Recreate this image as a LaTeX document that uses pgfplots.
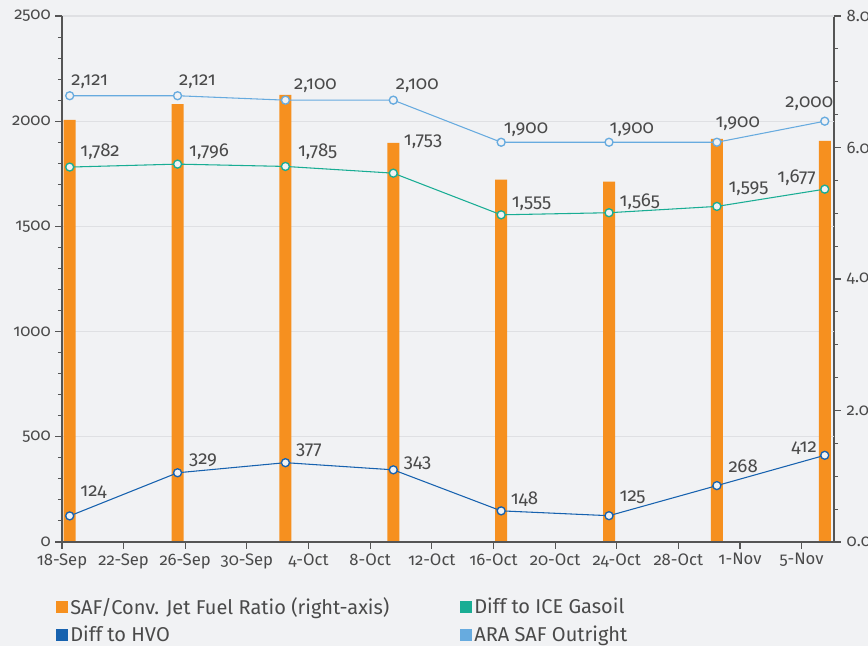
\documentclass[border=0pt]{standalone}
\usepackage{fontspec}
\setmainfont{Fira Sans}[RawFeature={+onum}]
\usepackage{pgfplots}
\usepackage{pgfplotstable}
\pgfplotsset{compat=1.18}
\definecolor{bg}{HTML}{F1F2F4}
\definecolor{barorange}{HTML}{F6901F}
\definecolor{teal}{HTML}{19AD94}
\definecolor{darkblue}{HTML}{1762AF}
\definecolor{lightblue}{HTML}{67ABDF}
\definecolor{txt}{HTML}{4A4A4A}
\definecolor{axgray}{HTML}{555555}
\definecolor{gridgray}{HTML}{DFE0E3}

% x = days after 18-Sep; dx, dy = label offsets in px
\pgfplotstableread{
x y
0.5 6.42
7.5 6.66
14.5 6.80
21.5 6.07
28.5 5.51
35.5 5.48
42.5 6.13
49.5 6.10
}\ratio
\pgfplotstableread{
x y dx dy
0.5 2121 1 14
7.5 2121 1 14
14.5 2100 8 14
21.5 2100 2 14
28.5 1900 2 13
35.5 1900 0 13
42.5 1900 -2 19
49.5 2000 -40 18
}\ara
\pgfplotstableread{
x y dx dy
0.5 1782 10 15
7.5 1796 11 12
14.5 1785 12 15
21.5 1753 10 31
28.5 1555 10 11
35.5 1565 10 11
42.5 1595 11 18
49.5 1677 -48 11
}\ice
\pgfplotstableread{
x y dx dy
0.5 124 10 24
7.5 329 11 13
14.5 377 10 12
21.5 343 10 7
28.5 148 9 12
35.5 125 10 18
42.5 268 11 19
49.5 412 -34 7
}\hvo

\pgfplotsset{
  labelled/.style={
    nodes near coords={\pgfmathprintnumber[1000 sep={,}, fixed, precision=0]{\pgfplotspointmeta}},
    point meta=y,
    visualization depends on={0.75*\thisrow{dx} \as \dx},
    visualization depends on={0.75*\thisrow{dy} \as \dy},
    every node near coord/.append style={anchor=west, inner sep=0pt, font=\fontsize{14}{16}\selectfont, text=txt, xshift=\dx pt, yshift=\dy pt},
  },
}

\begin{document}
\begin{tikzpicture}
\fill[bg] (-46.5pt,-78pt) rectangle (604.5pt,406.5pt);
% right axis with bars
\begin{axis}[
  scale only axis, width=579pt, height=394.5pt,
  xmin=0, xmax=50.1, ymin=0, ymax=8,
  axis x line=none, axis y line*=right,
  axis line style={draw=axgray, line width=0.9pt},
  ytick={0,2,4,6,8},
  minor y tick num=3,
  tick align=outside,
  major tick length=5pt, minor tick length=3pt,
  tick style={draw=axgray, line width=0.8pt},
  /pgf/number format/assume math mode=true,
  yticklabel={\pgfmathprintnumber[fixed, fixed zerofill, precision=1]{\tick}},
  yticklabel style={font=\fontsize{12.5}{14}\selectfont, text=txt, xshift=1pt},
  extra y ticks={1.6,3.2,4.8,6.4,8},
  extra y tick labels={},
  extra y tick style={grid=major, major grid style={draw=gridgray, line width=0.9pt}, major tick length=0pt},
  clip=false,
]
\addplot[ybar, bar width=9pt, fill=barorange, draw=none] table[x=x, y=y] {\ratio};
\end{axis}
% left axis with lines
\begin{axis}[
  scale only axis, width=579pt, height=394.5pt,
  xmin=0, xmax=50.1, ymin=0, ymax=2500,
  axis x line*=bottom, axis y line*=left,
  axis line style={draw=axgray, line width=0.9pt},
  xtick={0,4,...,48},
  xticklabels={18-Sep,22-Sep,26-Sep,30-Sep,4-Oct,8-Oct,12-Oct,16-Oct,20-Oct,24-Oct,28-Oct,1-Nov,5-Nov},
  ytick={0,500,...,2500},
  minor y tick num=4,
  tick align=outside,
  major tick length=5pt, minor tick length=3pt,
  tick style={draw=axgray, line width=0.8pt},
  /pgf/number format/assume math mode=true,
  yticklabel style={font=\fontsize{12.5}{14}\selectfont, text=txt},
  xticklabel style={font=\fontsize{12.5}{14}\selectfont, text=txt},
  scaled y ticks=false,
  yticklabel={\pgfmathprintnumber[1000 sep={}]{\tick}},
  clip=false,
  legend columns=2,
  legend cell align=left,
  legend style={draw=none, fill=none, at={(axis description cs:-0.008,-0.1)}, anchor=north west,
    font=\fontsize{15}{17}\selectfont, text=txt, inner sep=0pt,
    row sep=3pt,
    /tikz/every even column/.append style={column sep=51pt}},
  legend image code/.code={\fill[#1] (0pt,-4.1pt) rectangle (8.25pt,4.1pt);},
]
\addlegendimage{barorange}
\addlegendentry{SAF/Conv. Jet Fuel Ratio (right-axis)}
\addlegendimage{teal}
\addlegendentry{Diff to ICE Gasoil}
\addlegendimage{darkblue}
\addlegendentry{Diff to HVO}
\addlegendimage{lightblue}
\addlegendentry{ARA SAF Outright}
\addplot[forget plot, draw=lightblue, line width=0.8pt, mark=*, mark size=3pt, mark options={fill=bg, draw=lightblue, line width=1pt}, labelled] table[x=x, y=y] {\ara};
\addplot[forget plot, draw=teal, line width=0.8pt, mark=*, mark size=3pt, mark options={fill=bg, draw=teal, line width=1pt}, labelled] table[x=x, y=y] {\ice};
\addplot[forget plot, draw=darkblue, line width=0.8pt, mark=*, mark size=3pt, mark options={fill=bg, draw=darkblue, line width=1pt}, labelled] table[x=x, y=y] {\hvo};
\end{axis}
\pgfresetboundingbox
\path (-46.5pt,-78pt) rectangle (604.5pt,406.5pt);
\end{tikzpicture}
\end{document}
